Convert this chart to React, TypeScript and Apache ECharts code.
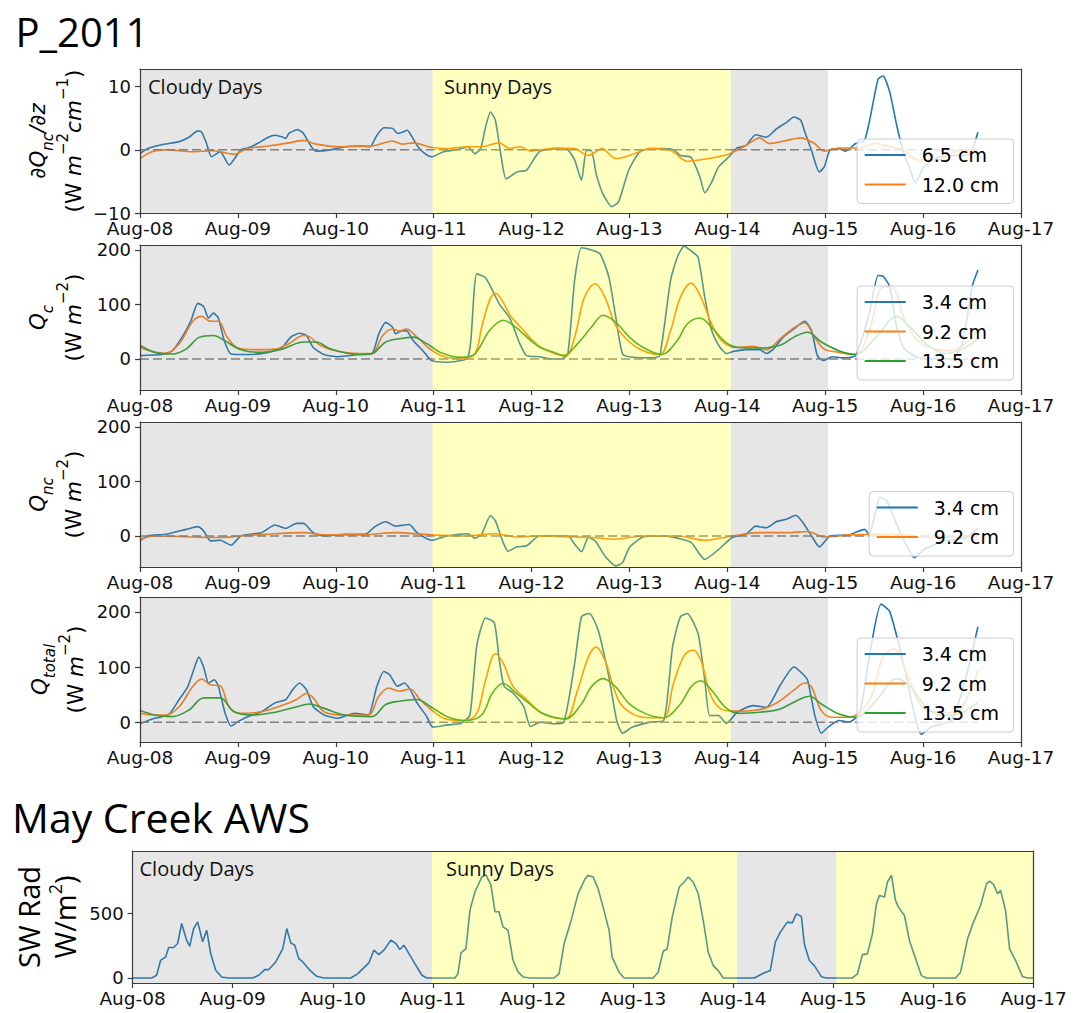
import { useEffect, useRef } from 'react';
import * as echarts from 'echarts';

// ---- axis ticks --------------------------------------------------------
const DAY_LABELS = ['Aug-08', 'Aug-09', 'Aug-10', 'Aug-11', 'Aug-12', 'Aug-13', 'Aug-14', 'Aug-15', 'Aug-16', 'Aug-17'];
const DAY_TICKS = [0, 1, 2, 3, 4, 5, 6, 7, 8, 9];

// ---- weather periods (days since Aug-08 00:00) ---------------------------
const CLOUDY_SPANS = [[0, 2.99], [6.035, 7.03]];
const SUNNY_SPANS = [[2.99, 6.035]];
const SUNNY_SPANS_AWS = [[2.99, 6.035], [7.03, 9]];
const RECORD_END = 8.56;

// ---- series: [days since Aug-08 00:00, value] --------------------------
const DQNC_65 = [[0,-0.6],[0.08,0.2],[0.22,0.8],[0.4,1.3],[0.5,2.0],[0.59,3.0],[0.63,2.8],[0.68,1.0],[0.73,-1.1],[0.82,-0.3],[0.91,-2.4],[1.03,0],[1.1,0.3],[1.2,1.0],[1.31,2.0],[1.38,2.3],[1.46,2.0],[1.49,1.8],[1.52,2.6],[1.61,3.2],[1.67,2.6],[1.75,0.5],[1.8,-0.2],[1.95,0],[2.09,0.5],[2.26,0.6],[2.35,0.5],[2.42,2.3],[2.49,3.5],[2.58,3.4],[2.63,2.6],[2.68,2.8],[2.73,3.1],[2.77,2.3],[2.84,0.5],[2.91,-0.6],[2.98,-1.1],[3.1,-0.3],[3.25,0.05],[3.35,0.5],[3.42,-0.6],[3.48,0.2],[3.53,3.6],[3.58,6.0],[3.63,4.7],[3.69,-1.1],[3.74,-4.6],[3.85,-3.5],[3.95,-3.2],[4.08,-0.3],[4.26,0.2],[4.37,0],[4.44,-1.6],[4.51,-4.8],[4.56,-0.1],[4.61,-0.1],[4.66,-3.8],[4.73,-7.0],[4.82,-9.0],[4.89,-8.2],[4.99,-3.3],[5.1,-0.4],[5.21,0.2],[5.35,0.2],[5.45,0],[5.52,-0.9],[5.63,-1.2],[5.72,-4.3],[5.77,-6.8],[5.84,-5.1],[5.91,-2.7],[6.01,-1.2],[6.1,0.3],[6.19,0.7],[6.29,2.4],[6.4,2.0],[6.5,3.3],[6.61,4.4],[6.68,5.2],[6.75,4.7],[6.79,2.9],[6.86,-0.1],[6.94,-3.5],[6.99,-2.7],[7.05,0],[7.14,0.2],[7.21,-0.2],[7.31,1.0],[7.4,1.5],[7.45,4.4],[7.54,11.2],[7.59,11.7],[7.66,9.1],[7.73,3.9],[7.8,-0.4],[7.87,-3.3],[7.92,-5.2],[8.01,-2.7],[8.15,-1.2],[8.29,-0.9],[8.47,-0.7],[8.56,2.8]];
const DQNC_120 = [[0,-1.4],[0.12,-0.3],[0.26,0],[0.54,-0.3],[0.75,-0.15],[0.96,-0.7],[1.1,0.2],[1.31,0.6],[1.52,1.1],[1.67,1.5],[1.8,0.9],[2.02,0.5],[2.37,0.6],[2.58,1.4],[2.68,0.9],[2.79,1.1],[2.97,0.4],[3.14,0.2],[3.35,0.5],[3.49,0.5],[3.67,1.1],[3.78,0.2],[3.88,0.5],[3.99,-0.2],[4.08,0],[4.26,0.3],[4.44,0.2],[4.58,-0.9],[4.72,0.2],[4.86,-1.4],[5.0,-0.9],[5.21,0.2],[5.42,-0.1],[5.59,-1.8],[5.8,-1.4],[6.01,-0.7],[6.19,0.7],[6.33,1.9],[6.43,1.0],[6.61,1.5],[6.75,1.9],[6.89,1.0],[6.99,-0.2],[7.14,0.3],[7.31,0.3],[7.52,1.0],[7.66,0.5],[7.8,-0.1],[7.94,-1.6],[8.15,-1.6],[8.36,-0.1],[8.56,0]];

const QC_34 = [[0,6],[0.22,8],[0.33,15],[0.43,40],[0.52,70],[0.59,102],[0.65,96],[0.7,75],[0.75,84],[0.8,75],[0.86,34],[0.93,9],[1.1,8],[1.31,12],[1.45,21],[1.54,40],[1.63,47],[1.7,43],[1.77,21],[1.88,8],[2.02,4],[2.23,8],[2.37,10],[2.44,46],[2.51,67],[2.58,58],[2.61,46],[2.68,52],[2.73,51],[2.79,34],[2.89,15],[2.98,-3],[3.14,-6],[3.28,-3],[3.35,3],[3.38,34],[3.44,156],[3.53,149],[3.6,126],[3.67,101],[3.78,74],[3.88,28],[3.95,6],[4.08,4],[4.19,0],[4.3,0],[4.37,9],[4.44,144],[4.51,204],[4.61,200],[4.7,193],[4.79,150],[4.86,77],[4.93,9],[5.03,3],[5.24,2],[5.31,6],[5.42,144],[5.49,187],[5.56,207],[5.63,198],[5.7,187],[5.77,113],[5.84,52],[5.91,25],[5.99,10],[6.07,14],[6.19,17],[6.33,17],[6.4,10],[6.47,18],[6.57,40],[6.68,55],[6.79,69],[6.86,52],[6.92,6],[6.98,-3],[7.07,4],[7.17,2],[7.31,6],[7.45,83],[7.54,153],[7.59,152],[7.66,132],[7.73,58],[7.8,21],[7.94,3],[8.15,0],[8.29,0],[8.4,28],[8.5,132],[8.56,163]];
const QC_92 = [[0,21],[0.12,14],[0.26,10],[0.4,28],[0.54,69],[0.63,78],[0.72,69],[0.8,69],[0.89,40],[1.0,20],[1.17,17],[1.38,18],[1.52,28],[1.67,43],[1.73,41],[1.84,25],[2.02,14],[2.23,10],[2.37,10],[2.48,43],[2.58,55],[2.65,51],[2.72,55],[2.83,40],[2.97,17],[3.11,4],[3.28,1],[3.42,9],[3.49,58],[3.57,107],[3.63,121],[3.71,104],[3.78,80],[3.92,52],[4.0,36],[4.09,22],[4.23,10],[4.35,6],[4.44,40],[4.54,113],[4.65,138],[4.75,113],[4.86,61],[5.0,31],[5.14,15],[5.31,8],[5.42,52],[5.52,113],[5.63,139],[5.73,113],[5.84,64],[5.94,34],[6.08,21],[6.26,23],[6.4,17],[6.54,37],[6.68,57],[6.79,66],[6.89,40],[6.99,18],[7.14,12],[7.31,8],[7.45,52],[7.59,132],[7.7,129],[7.8,77],[7.94,34],[8.12,18],[8.29,15],[8.43,28],[8.56,52]];
const QC_135 = [[0,25],[0.15,12],[0.33,9],[0.47,18],[0.61,40],[0.75,43],[0.86,34],[1.03,17],[1.24,12],[1.45,18],[1.67,31],[1.8,31],[1.95,18],[2.23,8],[2.37,10],[2.51,31],[2.65,37],[2.79,40],[2.93,28],[3.07,12],[3.28,3],[3.42,9],[3.57,52],[3.71,71],[3.84,58],[3.99,34],[4.09,21],[4.23,12],[4.33,6],[4.47,28],[4.61,58],[4.73,80],[4.86,67],[5.0,40],[5.14,21],[5.33,8],[5.49,34],[5.59,64],[5.72,75],[5.84,58],[5.98,31],[6.12,21],[6.33,20],[6.54,25],[6.68,40],[6.82,49],[6.96,31],[7.14,15],[7.31,8],[7.52,40],[7.73,78],[7.87,58],[8.05,25],[8.22,10],[8.4,18],[8.56,37]];

const QNC_34 = [[0,-9],[0.08,0],[0.26,3],[0.47,12],[0.59,17],[0.65,9],[0.72,-9],[0.82,-8],[0.93,-17],[1.03,0],[1.24,6],[1.38,20],[1.49,14],[1.6,23],[1.67,23],[1.77,6],[1.88,0],[2.09,3],[2.3,3],[2.4,17],[2.51,26],[2.61,18],[2.75,21],[2.83,6],[2.98,-8],[3.14,0],[3.35,4],[3.42,-4],[3.49,3],[3.58,37],[3.63,28],[3.71,-12],[3.76,-28],[3.85,-20],[3.95,-18],[4.08,0],[4.26,0],[4.37,0],[4.44,-15],[4.51,-29],[4.58,-3],[4.65,-9],[4.75,-37],[4.86,-55],[4.93,-49],[5.0,-21],[5.14,-2],[5.35,0],[5.49,-4],[5.63,-12],[5.77,-43],[5.91,-25],[6.05,-3],[6.19,3],[6.29,18],[6.4,15],[6.5,26],[6.61,31],[6.7,38],[6.77,25],[6.86,0],[6.94,-20],[7.05,0],[7.24,2],[7.4,12],[7.45,3],[7.56,71],[7.63,64],[7.73,21],[7.84,-21],[7.91,-40],[8.01,-25],[8.22,-9],[8.43,-4],[8.56,14]];
const QNC_92 = [[0,-6],[0.15,0],[0.54,-2],[0.82,-3],[1.03,0],[1.38,4],[1.67,6],[1.88,2],[2.26,2],[2.61,6],[2.97,2],[3.32,0],[3.63,4],[3.85,-2],[4.08,0],[4.44,-2],[4.61,-3],[4.86,-6],[5.14,0],[5.49,0],[5.77,-8],[6.05,0],[6.33,6],[6.61,6],[6.82,8],[6.99,-2],[7.24,2],[7.52,3],[7.77,3],[8.01,-3],[8.29,-3],[8.56,0]];

const QT_34 = [[0,-3],[0.15,7],[0.29,13],[0.4,41],[0.49,65],[0.56,101],[0.6,118],[0.65,100],[0.7,71],[0.76,77],[0.8,65],[0.87,16],[0.93,-7],[1.0,1],[1.1,10],[1.24,19],[1.38,35],[1.49,41],[1.56,59],[1.63,71],[1.7,59],[1.77,28],[1.88,13],[2.02,7],[2.19,16],[2.33,13],[2.42,65],[2.49,92],[2.55,86],[2.63,65],[2.7,71],[2.76,59],[2.83,35],[2.93,10],[2.99,-9],[3.14,-5],[3.28,-2],[3.37,13],[3.44,138],[3.53,189],[3.62,180],[3.67,113],[3.72,65],[3.81,53],[3.92,28],[3.99,-8],[4.09,0],[4.23,-3],[4.33,0],[4.44,106],[4.51,191],[4.59,197],[4.68,167],[4.79,82],[4.87,3],[4.93,-20],[5.03,-9],[5.21,0],[5.35,3],[5.44,136],[5.52,191],[5.59,197],[5.7,161],[5.77,76],[5.82,12],[5.91,12],[5.99,-2],[6.1,18],[6.26,30],[6.4,27],[6.54,67],[6.68,100],[6.75,91],[6.82,76],[6.89,15],[6.96,-20],[7.03,-9],[7.14,3],[7.24,0],[7.35,15],[7.45,118],[7.57,214],[7.66,200],[7.8,106],[7.91,15],[7.98,-22],[8.08,-9],[8.29,3],[8.43,76],[8.56,173]];
const QT_92 = [[0,16],[0.12,13],[0.26,13],[0.4,28],[0.54,65],[0.63,78],[0.72,68],[0.82,66],[0.91,28],[1.03,16],[1.24,19],[1.45,30],[1.6,41],[1.7,52],[1.77,44],[1.88,19],[2.09,13],[2.33,13],[2.44,47],[2.54,62],[2.65,56],[2.76,60],[2.86,41],[3.0,19],[3.14,5],[3.32,3],[3.44,16],[3.53,76],[3.63,124],[3.71,107],[3.81,65],[3.95,41],[4.09,18],[4.23,8],[4.35,6],[4.47,58],[4.58,118],[4.66,136],[4.75,112],[4.89,39],[5.03,15],[5.21,8],[5.35,8],[5.45,70],[5.56,121],[5.65,131],[5.73,112],[5.84,45],[5.98,21],[6.12,20],[6.26,21],[6.4,26],[6.54,39],[6.68,58],[6.79,71],[6.86,64],[6.96,21],[7.07,9],[7.24,9],[7.45,39],[7.59,118],[7.7,133],[7.84,85],[7.98,30],[8.15,18],[8.33,18],[8.47,52],[8.56,94]];
const QT_135 = [[0,21],[0.15,13],[0.33,10],[0.5,22],[0.65,44],[0.82,44],[0.96,19],[1.17,13],[1.38,18],[1.6,28],[1.73,33],[1.88,25],[2.09,13],[2.37,10],[2.51,32],[2.65,38],[2.83,41],[2.97,28],[3.14,10],[3.32,3],[3.49,13],[3.6,53],[3.71,70],[3.84,53],[3.99,32],[4.09,18],[4.23,9],[4.35,6],[4.51,33],[4.61,64],[4.73,79],[4.86,64],[5.0,33],[5.17,15],[5.35,8],[5.52,33],[5.63,64],[5.73,75],[5.84,58],[5.98,27],[6.12,16],[6.33,18],[6.54,24],[6.71,39],[6.84,47],[6.96,33],[7.14,15],[7.31,9],[7.52,39],[7.73,79],[7.87,64],[8.05,24],[8.22,12],[8.4,18],[8.56,36]];

const SW_RAD = [[0,0],[0.19,0],[0.24,21],[0.28,137],[0.33,163],[0.36,236],[0.41,236],[0.45,267],[0.49,422],[0.54,293],[0.57,246],[0.61,383],[0.65,435],[0.7,280],[0.74,370],[0.78,189],[0.83,60],[0.89,8],[0.95,0],[1.2,0],[1.26,21],[1.32,65],[1.36,65],[1.43,124],[1.5,228],[1.54,383],[1.58,272],[1.62,254],[1.66,150],[1.7,124],[1.77,60],[1.84,13],[1.91,0],[2.18,0],[2.25,34],[2.36,117],[2.41,215],[2.46,181],[2.51,215],[2.58,293],[2.63,267],[2.67,220],[2.71,254],[2.8,137],[2.89,21],[2.94,0],[3.22,0],[3.25,34],[3.28,194],[3.33,228],[3.37,526],[3.42,668],[3.49,785],[3.53,798],[3.58,720],[3.62,513],[3.66,513],[3.7,396],[3.75,370],[3.8,137],[3.85,47],[3.9,8],[3.97,0],[4.21,0],[4.26,31],[4.31,264],[4.38,446],[4.45,653],[4.52,769],[4.55,795],[4.6,782],[4.65,692],[4.7,549],[4.76,368],[4.79,161],[4.86,44],[4.91,0],[5.2,0],[5.25,44],[5.3,207],[5.34,225],[5.39,472],[5.46,705],[5.51,744],[5.55,782],[5.6,744],[5.65,653],[5.7,446],[5.75,200],[5.8,96],[5.85,57],[5.9,0],[6.21,0],[6.3,36],[6.37,57],[6.42,277],[6.47,355],[6.54,433],[6.59,427],[6.63,497],[6.68,477],[6.71,264],[6.76,135],[6.81,96],[6.88,10],[6.93,0],[7.19,0],[7.24,31],[7.29,181],[7.34,187],[7.39,342],[7.43,575],[7.46,640],[7.51,627],[7.54,744],[7.58,795],[7.62,601],[7.65,549],[7.71,484],[7.76,290],[7.81,174],[7.88,18],[7.93,0],[8.22,0],[8.27,44],[8.34,303],[8.4,433],[8.47,562],[8.53,731],[8.56,751],[8.6,725],[8.64,653],[8.67,679],[8.72,523],[8.76,225],[8.82,135],[8.89,10],[8.94,0],[9.0,0]];

// ---- styling ------------------------------------------------------------
const BLUE = '#1f77b4';
const ORANGE = '#ff7f0e';
const GREEN = '#2ca02c';
const GRAY_SHADE = 'rgba(128,128,128,0.2)';
const YELLOW_SHADE = 'rgba(255,255,0,0.25)';
const FRAME = '#3a3a3a';
const MONO = 'DejaVu Sans';
const HUMANIST = '"Open Sans"';

type LineDef = { name: string; data: number[][]; color: string; smooth: number };
type PanelDef = {
  left: number; top: number; width: number; height: number;
  yMin: number; yMax: number; yTicks: number[];
  lines: LineDef[];
  sunny: number[][];
  zeroLine: boolean;
  legendTop: number | null;
  title: string; titleX: number;
};

const MATH_RICH = {
  i: { fontFamily: MONO, fontStyle: 'italic', fontSize: 21.5, lineHeight: 36, fill: '#000' },
  u: { fontFamily: MONO, fontSize: 21.5, lineHeight: 36, fill: '#000' },
  sb: { fontFamily: MONO, fontStyle: 'italic', fontSize: 15, lineHeight: 17, verticalAlign: 'bottom', fill: '#000' },
  sp: { fontFamily: MONO, fontSize: 15, lineHeight: 22, verticalAlign: 'top', fill: '#000' },
  o: { fontFamily: HUMANIST, fontSize: 29, lineHeight: 36, fill: '#000' },
  os: { fontFamily: HUMANIST, fontSize: 18, lineHeight: 24, verticalAlign: 'top', fill: '#000' },
};
const UNIT_LINE = '{u|(W }{i|m}{sp|\u22122}{u|)}';

const PANELS: PanelDef[] = [
  {
    left: 140, top: 69, width: 881, height: 144, yMin: -10, yMax: 12.8, yTicks: [-10, 0, 10],
    lines: [
      { name: '6.5 cm', data: DQNC_65, color: BLUE, smooth: 0.2 },
      { name: '12.0 cm', data: DQNC_120, color: ORANGE, smooth: 0.3 },
    ],
    sunny: SUNNY_SPANS, zeroLine: true, legendTop: 139, titleX: 55,
    title: '{i|\u2202Q}{sb|nc}{i|/\u2202z}\n{u|(W }{i|m}{sp|\u22122}{i|cm}{sp|\u22121}{u|)}',
  },
  {
    left: 140, top: 245, width: 881, height: 145, yMin: -57, yMax: 209, yTicks: [0, 100, 200],
    lines: [
      { name: '3.4 cm', data: QC_34, color: BLUE, smooth: 0.2 },
      { name: '9.2 cm', data: QC_92, color: ORANGE, smooth: 0.35 },
      { name: '13.5 cm', data: QC_135, color: GREEN, smooth: 0.35 },
    ],
    sunny: SUNNY_SPANS, zeroLine: true, legendTop: 286, titleX: 55,
    title: '{i|Q}{sb|c}\n' + UNIT_LINE,
  },
  {
    left: 140, top: 422, width: 881, height: 145, yMin: -57, yMax: 209, yTicks: [0, 100, 200],
    lines: [
      { name: '3.4 cm', data: QNC_34, color: BLUE, smooth: 0.2 },
      { name: '9.2 cm', data: QNC_92, color: ORANGE, smooth: 0.3 },
    ],
    sunny: SUNNY_SPANS, zeroLine: true, legendTop: 491.5, titleX: 55,
    title: '{i|Q}{sb|nc}\n' + UNIT_LINE,
  },
  {
    left: 140, top: 597, width: 881, height: 145, yMin: -36, yMax: 227, yTicks: [0, 100, 200],
    lines: [
      { name: '3.4 cm', data: QT_34, color: BLUE, smooth: 0.2 },
      { name: '9.2 cm', data: QT_92, color: ORANGE, smooth: 0.35 },
      { name: '13.5 cm', data: QT_135, color: GREEN, smooth: 0.35 },
    ],
    sunny: SUNNY_SPANS, zeroLine: true, legendTop: 638, titleX: 57,
    title: '{i|Q}{sb|total}\n' + UNIT_LINE,
  },
  {
    left: 132.6, top: 851, width: 901, height: 132, yMin: -39, yMax: 984, yTicks: [0, 500],
    lines: [{ name: 'SW Rad', data: SW_RAD, color: BLUE, smooth: 0 }],
    sunny: SUNNY_SPANS_AWS, zeroLine: false, legendTop: null, titleX: 46,
    title: '{o|SW Rad}\n{o|W/m}{os|2}{o|)}',
  },
];

const fmtTick = (v: number) => (v < 0 ? '\u2212' + Math.abs(v) : String(v));

function buildOption() {
  const grid: any[] = [];
  const xAxis: any[] = [];
  const yAxis: any[] = [];
  const series: any[] = [];
  const legend: any[] = [];
  const graphic: any[] = [];
  const frameLine = { show: true, onZero: false, lineStyle: { color: FRAME, width: 1.2 } };

  PANELS.forEach((p, i) => {
    grid.push({ left: p.left, top: p.top, width: p.width, height: p.height, show: false, containLabel: false });

    // bottom axis carries the date ticks; top axis only closes the frame
    xAxis.push({
      type: 'value', gridIndex: i, min: 0, max: 9, position: 'bottom', z: 5,
      axisLine: frameLine,
      axisTick: { show: true, customValues: DAY_TICKS, length: 5, lineStyle: { color: FRAME, width: 1.2 } },
      axisLabel: {
        show: true, customValues: DAY_TICKS, margin: 6, formatter: (v: number) => DAY_LABELS[Math.round(v)],
        fontFamily: MONO, fontSize: 18.5, color: '#111',
      },
      splitLine: { show: false },
    });
    xAxis.push({
      type: 'value', gridIndex: i, min: 0, max: 9, position: 'top', z: 5,
      axisLine: frameLine, axisTick: { show: false }, axisLabel: { show: false }, splitLine: { show: false },
    });
    yAxis.push({
      type: 'value', gridIndex: i, min: p.yMin, max: p.yMax, position: 'left', z: 5,
      axisLine: frameLine,
      axisTick: { show: true, customValues: p.yTicks, length: 5, lineStyle: { color: FRAME, width: 1.2 } },
      axisLabel: {
        show: true, customValues: p.yTicks, margin: 9, formatter: fmtTick,
        fontFamily: MONO, fontSize: 18, color: '#111',
      },
      splitLine: { show: false },
    });
    yAxis.push({
      type: 'value', gridIndex: i, min: p.yMin, max: p.yMax, position: 'right', z: 5,
      axisLine: frameLine, axisTick: { show: false }, axisLabel: { show: false }, splitLine: { show: false },
    });

    const xi = 2 * i;
    const yi = 2 * i;

    p.lines.forEach((l) => {
      series.push({
        type: 'line', name: l.name, xAxisIndex: xi, yAxisIndex: yi, data: l.data,
        symbol: 'none', showSymbol: false, z: 2, silent: true,
        smooth: l.smooth,
        lineStyle: { color: l.color, width: 1.6 }, itemStyle: { color: l.color },
      });
    });

    if (p.zeroLine) {
      series.push({
        type: 'line', xAxisIndex: xi, yAxisIndex: yi, data: [[0, 0], [RECORD_END, 0]],
        symbol: 'none', z: 2, silent: true,
        lineStyle: { color: '#808080', width: 1.5, type: [9, 4] },
      });
    }

    // translucent period shading laid over the traces
    const spans = [
      ...CLOUDY_SPANS.map((s) => [s[0], s[1], 0]),
      ...p.sunny.map((s) => [s[0], s[1], 1]),
    ];
    series.push({
      type: 'custom', xAxisIndex: xi, yAxisIndex: yi, z: 3, silent: true,
      data: spans, encode: { x: [0, 1] },
      renderItem: (params: any, api: any) => {
        const cs = params.coordSys;
        const a = api.coord([api.value(0), 0])[0];
        const b = api.coord([api.value(1), 0])[0];
        return {
          type: 'rect',
          shape: { x: a, y: cs.y, width: b - a, height: cs.height },
          style: { fill: api.value(2) === 1 ? YELLOW_SHADE : GRAY_SHADE },
        };
      },
    });

    if (p.legendTop !== null) {
      legend.push({
        data: p.lines.map((l) => ({ name: l.name, icon: 'rect' })),
        orient: 'vertical', right: 64.4, top: p.legendTop,
        itemWidth: 41, itemHeight: 2, itemGap: 9.5, padding: [6, 14.6, 9, 7.6],
        backgroundColor: 'rgba(255,255,255,0.8)', borderColor: '#cccccc', borderWidth: 1, borderRadius: 4,
        selectedMode: false, z: 6,
        textStyle: { fontFamily: MONO, fontSize: 19, color: '#000', lineHeight: 20, padding: [0, 0, 0, 11] },
      });
    }

    graphic.push({
      type: 'text', x: p.titleX, y: p.top + p.height / 2, rotation: Math.PI / 2, z: 10,
      style: { text: p.title, rich: MATH_RICH, align: 'center', verticalAlign: 'middle', fill: '#000' },
    });
  });

  const note = (text: string, x: number, y: number) => ({
    type: 'text', x, y, z: 10,
    style: { text, font: `20px ${HUMANIST}`, fill: '#111', align: 'left', verticalAlign: 'middle' },
  });
  graphic.push(note('Cloudy Days', 148, 86));
  graphic.push(note('Sunny Days', 444, 86));
  graphic.push(note('Cloudy Days', 139.5, 868.5));
  graphic.push(note('Sunny Days', 446, 868.5));

  graphic.push({
    type: 'text', x: 15.5, y: 31, z: 10,
    style: { text: 'P_2011', font: `40px ${HUMANIST}`, fill: '#000', align: 'left', verticalAlign: 'middle' },
  });
  graphic.push({
    type: 'text', x: 12, y: 817, z: 10,
    style: { text: 'May Creek AWS', font: `41px ${HUMANIST}`, fill: '#000', align: 'left', verticalAlign: 'middle' },
  });

  return {
    animation: false,
    backgroundColor: '#ffffff',
    grid, xAxis, yAxis, series, legend, graphic,
  };
}

export default function App() {
  const ref = useRef<HTMLDivElement>(null);
  useEffect(() => {
    document.body.style.margin = '0';
    const chart = echarts.init(ref.current!, null, { renderer: 'svg' });
    chart.setOption(buildOption() as any);
    return () => chart.dispose();
  }, []);
  return <div ref={ref} style={{ width: 1078, height: 1013, background: '#ffffff' }} />;
}
